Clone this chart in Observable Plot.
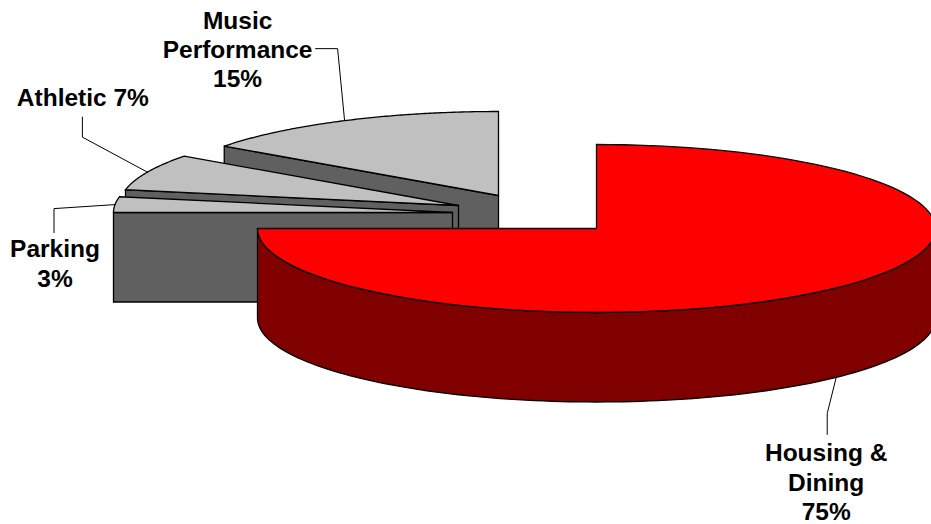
<!DOCTYPE html>
<html>
<head>
<meta charset="utf-8">
<script src="https://cdn.jsdelivr.net/npm/d3@7"></script>
<script src="https://cdn.jsdelivr.net/npm/@observablehq/plot@0.6"></script>
<style>
  html, body { margin: 0; padding: 0; background: #fff; }
</style>
</head>
<body>
<div id="chart"></div>
<script>
// Share of auxiliary revenue by category, clockwise from twelve o'clock.
const categories = ["Housing &\nDining", "Parking", "Athletic", "Music\nPerformance"];
const shares = [75, 3, 7, 15];
const labelJoiners = ["\n", "\n", " ", "\n"];

// Pie layout: every slice shares one ellipse and depth, and is pulled out to its own hub.
const width = 931;
const height = 524;
const radiusX = 339;
const radiusY = 84;
const depth = 89.5;
const hubs = [[596, 228], [452, 212], [458, 205], [498, 195]];

// Callout layout relative to the point on each slice's rim: leader elbows, then the text.
const elbowOffsets = [
  [[-9, 36], [-9, 57]],
  [[-61, 4], [-61, 28]],
  [[-65, -35], [-65, -55]],
  [[-7, -72], [-29, -72]]
];
const labelOffsets = [[-10, 104], [-60, 58], [-64.5, -76], [-107, -72]];

const TOP_GREY = "#c0c0c0";
const WALL_GREY = "#606060";
const TOP_RED = "#ff0000";
const WALL_RED = "#800000";
const FONT = "Liberation Sans, Arial, sans-serif";

const fractions = shares.map(s => s / d3.sum(shares) * 2 * Math.PI);
const ends = Array.from(d3.cumsum(fractions));
const starts = ends.map((e, i) => e - fractions[i]);

const rim = ([cx, cy], angle, drop = 0) => [
  cx + radiusX * Math.sin(angle),
  cy - radiusY * Math.cos(angle) + drop
];
const arc = (hub, a0, a1, drop = 0) =>
  d3.range(121).map(i => rim(hub, a0 + (a1 - a0) * i / 120, drop));

const outlined = (points, fill) =>
  Plot.line(points, {
    x: d => d[0],
    y: d => d[1],
    curve: "linear-closed",
    fill,
    stroke: "#000",
    strokeWidth: 1.3,
    strokeLinejoin: "miter",
    strokeMiterlimit: 4
  });

// The small slices are painted back to front: cut face first, then the top.
const greySlices = [3, 2, 1].flatMap(i => {
  const hub = hubs[i];
  const rimPoint = rim(hub, starts[i]);
  const face = [
    hub,
    rimPoint,
    [rimPoint[0], rimPoint[1] + depth],
    [hub[0], hub[1] + depth]
  ];
  return [
    outlined(face, WALL_GREY),
    outlined([hub, ...arc(hub, starts[i], ends[i])], TOP_GREY)
  ];
});

// The large slice sits in front: outer wall along the near half, then the top.
const housingHub = hubs[0];
const housingWall = [
  ...arc(housingHub, Math.PI / 2, ends[0]),
  ...arc(housingHub, ends[0], Math.PI / 2, depth)
];
const housing = [
  outlined(housingWall, WALL_RED),
  outlined([housingHub, ...arc(housingHub, starts[0], ends[0])], TOP_RED)
];

// Callouts hang from the middle of each slice's rim; the large one from its wall's lower edge.
const anchors = categories.map((_, i) =>
  rim(hubs[i], (starts[i] + ends[i]) / 2, i === 0 ? depth : 0)
);
const leaders = anchors.map((anchor, i) =>
  Plot.line(
    [anchor, ...elbowOffsets[i].map(([dx, dy]) => [anchor[0] + dx, anchor[1] + dy])],
    { x: d => d[0], y: d => d[1], stroke: "#000", strokeWidth: 1 }
  )
);
const labels = categories.map((name, i) => ({
  x: anchors[i][0] + labelOffsets[i][0],
  y: anchors[i][1] + labelOffsets[i][1],
  text: `${name}${labelJoiners[i]}${shares[i]}%`
}));

const chart = Plot.plot({
  width,
  height,
  margin: 0,
  style: { background: "#fff" },
  x: { axis: null, domain: [0, width], range: [0, width] },
  y: { axis: null, domain: [0, height], range: [0, height] },
  marks: [
    ...greySlices,
    ...housing,
    ...leaders,
    Plot.text(labels, {
      x: "x",
      y: "y",
      text: "text",
      fontFamily: FONT,
      fontWeight: "bold",
      fontSize: 24.5,
      lineHeight: 1.2,
      fill: "#000",
      textAnchor: "middle"
    })
  ]
});
document.getElementById("chart").append(chart);
</script>
</body>
</html>
